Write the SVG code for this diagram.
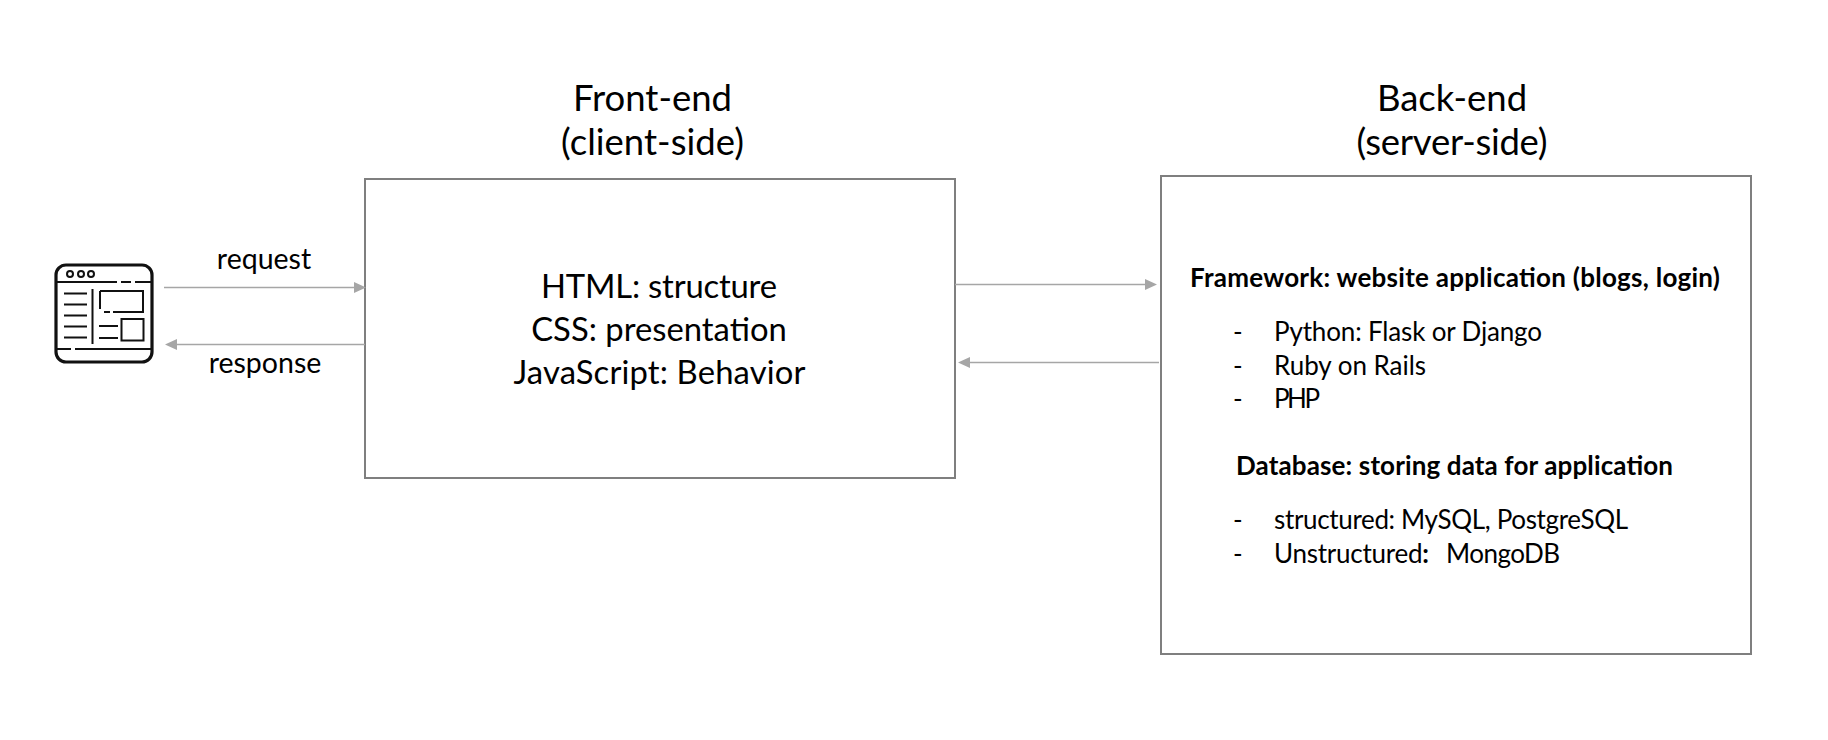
<svg xmlns="http://www.w3.org/2000/svg" width="1828" height="740" viewBox="0 0 1828 740">
<style>
.box{fill:#fff;stroke:#7f7f7f;stroke-width:2}
.c{stroke:#a6a6a6;stroke-width:1.3;fill:none}
.h{fill:#a6a6a6}
.t{font-family:"Lato","Liberation Sans",sans-serif;fill:#000}
.title{font-size:36.500px;text-anchor:middle}
.lab{font-size:28.500px;text-anchor:middle}
.main{font-size:32.800px;text-anchor:middle}
.b{font-size:26px}
.bold{font-weight:700}
.i{fill:none;stroke:#111;stroke-width:2}
</style>
<rect width="1828" height="740" fill="#fff"/>
<g id="browser-icon">
<rect x="56" y="265" width="96" height="97" rx="10" fill="none" stroke="#111" stroke-width="3.200"/>
<circle cx="70" cy="274" r="3" class="i"/><circle cx="81" cy="274" r="3" class="i"/><circle cx="91" cy="274" r="3" class="i"/>
<path class="i" d="M57 282H117M121 282H131M135 282H151M57 349H71M75 349H151M64 293.500H87M64 304.500H87M64 315.500H87M64 326.500H87M64 337.500H87M92.500 289V344M100 291V309M100 291H143V312H113M104 312H110M99 326H118M99 338H118"/>
<rect x="121.500" y="319" width="22" height="21.500" class="i"/>
</g>
<g id="front-end">
<rect class="box" x="365" y="179" width="590" height="299"/>
<text class="t title" x="652.500" y="111">Front-end</text>
<text class="t title" x="652.500" y="155" textLength="183">(client-side)</text>
<text class="t main" x="659" y="298" textLength="236">HTML: structure</text>
<text class="t main" x="659" y="341">CSS: presentation</text>
<text class="t main" x="659.500" y="384" textLength="292">JavaScript: Behavior</text>
</g>
<g id="back-end">
<rect class="box" x="1161" y="176" width="590" height="478"/>
<text class="t title" x="1452" y="111">Back-end</text>
<text class="t title" x="1452" y="155" textLength="191">(server-side)</text>
<text class="t b bold" x="1190" y="287" textLength="530">Framework: website application (blogs, login)</text>
<text class="t b" x="1233" y="341">-</text><text class="t b" x="1274" y="341" textLength="268">Python: Flask or Django</text>
<text class="t b" x="1233" y="375">-</text><text class="t b" x="1274" y="375" textLength="152">Ruby on Rails</text>
<text class="t b" x="1233" y="408">-</text><text class="t b" x="1274" y="408" textLength="46">PHP</text>
<text class="t b bold" x="1236" y="475" textLength="437">Database: storing data for application</text>
<text class="t b" x="1233" y="529">-</text><text class="t b" x="1274" y="529" textLength="354">structured: MySQL, PostgreSQL</text>
<text class="t b" x="1233" y="563">-</text><text class="t b" x="1274" y="563" textLength="155">Unstructured<tspan class="bold">:</tspan></text><text class="t b" x="1446" y="563" textLength="114">MongoDB</text>
</g>
<g id="connectors">
<path class="c" d="M164 287.500H355"/><path class="h" d="M354 282L366 287.500L354 293Z"/>
<path class="c" d="M365 344.500H175"/><path class="h" d="M177 339L165 344.500L177 350Z"/>
<path class="c" d="M955 284.500H1147"/><path class="h" d="M1145 279L1157 284.500L1145 290Z"/>
<path class="c" d="M1159 362.500H968"/><path class="h" d="M970 357L958 362.500L970 368Z"/>
<text class="t lab" x="264" y="269">request</text>
<text class="t lab" x="265" y="373">response</text>
</g>
</svg>
